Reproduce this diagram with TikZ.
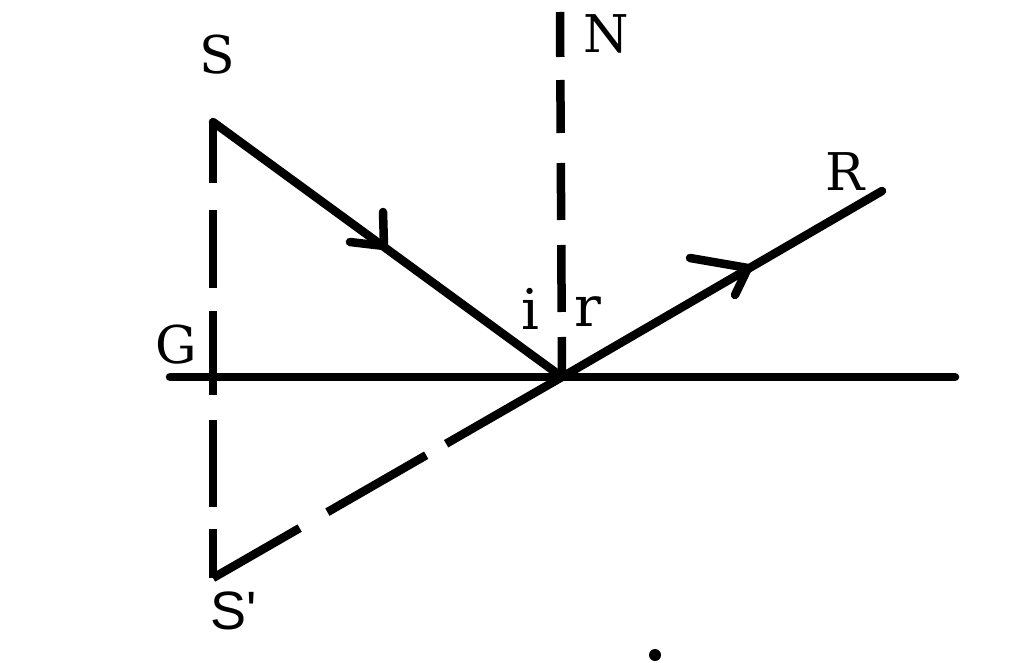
\documentclass[tikz,border=0pt]{standalone}
\usepackage{fontspec}
\setmainfont{DejaVu Serif}
\newfontfamily\sansfnt{Liberation Sans}
\begin{document}
\begin{tikzpicture}[x=1pt,y=-1pt,line width=8.5pt,line cap=round,
  ray/.style={line width=8.5pt,line cap=round},
  dashedline/.style={line width=8.5pt,line cap=butt},
  barb/.style={line width=8.5pt,line cap=round},
  lbl/.style={inner sep=0pt,font=\fontsize{52}{52}\selectfont},
  mlbl/.style={inner sep=0pt,font=\fontsize{56}{56}\selectfont}]
\useasboundingbox (0,0) rectangle (1024,663);
\coordinate (S) at (213,122);
\coordinate (Sp) at (213,578);
\coordinate (O) at (562,377);
\coordinate (N) at (560,12);
\coordinate (R) at (882,191);
\coordinate (ML) at (170,377);
\coordinate (MR) at (955,377);
\coordinate (T1) at (384,246);
\coordinate (B1a) at (383,212);
\coordinate (B1b) at (350,242);
\coordinate (T2) at (748,268);
\coordinate (B2a) at (690,258);
\coordinate (B2b) at (735,295);
% mirror
\draw[ray] (ML) -- (MR);
% rays
\draw[ray] (S) -- (O);
\draw[ray] (O) -- (R);
% arrow barbs
\draw[barb] (B1a) -- (T1) -- (B1b);
\draw[barb] (B2a) -- (T2) -- (B2b);
% dashed lines
\draw[dashedline,dash pattern=on 61pt off 27pt on 78pt off 23pt on 84pt off 25pt on 87pt off 22pt on 60pt] (S) -- (Sp);
\draw[dashedline,dash pattern=on 45pt off 23pt on 53pt off 30pt on 57pt off 25pt on 67pt off 25pt on 60pt] (N) -- (O);
\draw[dashedline,dash pattern=on 100pt off 32pt on 114pt off 23pt on 140pt] (Sp) -- (O);
% labels
\node[lbl] (lS) at (217,55) {S};
\node[lbl] (lN) at (606,34) {N};
\node[lbl] (lR) at (845,172) {R};
\node[lbl] (lG) at (176,345) {G};
\node[mlbl] (li) at (530,309) {i};
\node[mlbl] (lr) at (588,312) {r};
\node[inner sep=0pt,font=\sansfnt\fontsize{54}{54}\selectfont] (lSp) at (234,611) {S'};
\fill (655,655) circle (6pt);
\end{tikzpicture}
\end{document}
